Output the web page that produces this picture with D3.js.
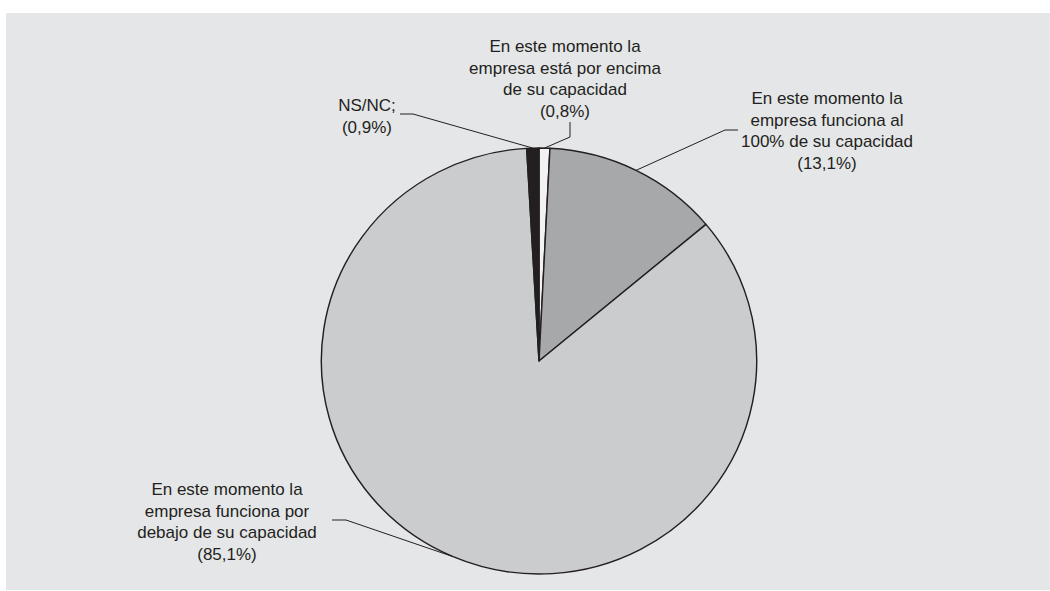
<!DOCTYPE html>
<html>
<head>
<meta charset="utf-8">
<script src="https://cdn.jsdelivr.net/npm/d3@7"></script>
<style>
  html, body { margin: 0; padding: 0; background: #ffffff; }
  svg { display: block; }
  text { font-family: "Liberation Sans", Arial, sans-serif; fill: #231f20; }
</style>
</head>
<body>
<script>
// Slices, clockwise from 12 o'clock
const categories = [
  "En este momento la empresa está por encima de su capacidad",
  "En este momento la empresa funciona al 100% de su capacidad",
  "En este momento la empresa funciona por debajo de su capacidad",
  "NS/NC"
];
const values = [0.8, 13.1, 85.1, 0.9];
const labelLines = [
  ["En este momento la", "empresa está por encima", "de su capacidad", "(0,8%)"],
  ["En este momento la", "empresa funciona al", "100% de su capacidad", "(13,1%)"],
  ["En este momento la", "empresa funciona por", "debajo de su capacidad", "(85,1%)"],
  ["NS/NC;", "(0,9%)"]
];
const colors = ["#f2f2f2", "#a7a8aa", "#cbcccd", "#231f20"];

const W = 1050, H = 591;
const cx = 539, cy = 361, R = 213, sx = 1.022;

// Label block placement: text centre x, first line centre y, leader knee and end
const labelLayout = [
  { x: 565, y: 46, knee: [570, 137], end: [570, 122] },
  { x: 827, y: 98, knee: [725, 130], end: [738, 130] },
  { x: 227, y: 489, knee: [346, 520], end: [332, 520] },
  { x: 367, y: 105, knee: [413, 114], end: [400, 114] }
];
const lineH = 21.5;

const svg = d3.select("body").append("svg")
  .attr("width", W).attr("height", H);

svg.append("rect")
  .attr("x", 6).attr("y", 13)
  .attr("width", W - 6).attr("height", 577)
  .attr("fill", "#e5e6e8");

const pie = d3.pie().sort(null).value(d => d)(values);
const arc = d3.arc().innerRadius(0).outerRadius(R);

const g = svg.append("g").attr("transform", `translate(${cx},${cy}) scale(${sx},1)`);

g.selectAll("path.slice")
  .data(pie)
  .join("path")
  .attr("class", "slice")
  .attr("d", arc)
  .attr("fill", (d, i) => colors[i])
  .attr("stroke", "#231f20")
  .attr("stroke-width", 1.4)
  .attr("stroke-linejoin", "round");

// Leader lines from the middle of each slice's rim
const leaders = svg.append("g");
pie.forEach((d, i) => {
  const a = (d.startAngle + d.endAngle) / 2;
  const p = [cx + R * sx * Math.sin(a), cy - R * Math.cos(a)];
  const L = labelLayout[i];
  leaders.append("polyline")
    .attr("points", [p, L.knee, L.end].map(q => q.join(",")).join(" "))
    .attr("fill", "none")
    .attr("stroke", "#231f20")
    .attr("stroke-width", 1);
});

// Labels
labelLines.forEach((lines, i) => {
  const L = labelLayout[i];
  const t = svg.append("text")
    .attr("text-anchor", "middle")
    .attr("font-size", 17);
  lines.forEach((s, j) => {
    t.append("tspan")
      .attr("x", L.x)
      .attr("y", L.y + j * lineH)
      .attr("dy", "0.36em")
      .text(s);
  });
});
</script>
</body>
</html>
